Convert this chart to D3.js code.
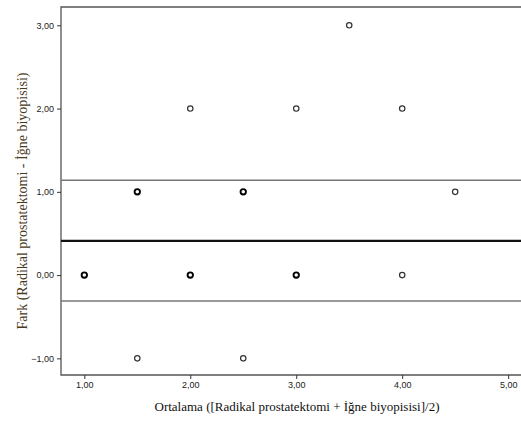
<!DOCTYPE html>
<html>
<head>
<meta charset="utf-8">
<script src="https://cdn.jsdelivr.net/npm/d3@7"></script>
<style>
  body { margin: 0; background: #fff; }
  svg { display: block; }
</style>
</head>
<body>
<div id="chart"></div>
<script>
// mean of the two measurements, difference, and how many cases sit on that spot
var ortalama = [1.0, 1.5, 1.5, 2.0, 2.0, 2.5, 2.5, 3.0, 3.0, 3.5, 4.0, 4.0, 4.5];
var fark     = [0,   1,  -1,   2,   0,   1,  -1,   2,   0,   3,   2,   0,   1];
var adet     = [3,   3,   1,   1,   3,   3,   1,   1,   3,   1,   1,   1,   1];

var ortFark = 0.41;      // mean difference
var ustSinir = 1.14;     // upper limit
var altSinir = -0.31;    // lower limit

var xTicks = [1, 2, 3, 4, 5];
var yTicks = [-1, 0, 1, 2, 3];

var width = 521, height = 423;
var margin = {top: 7, right: -2, bottom: 48, left: 61};

var svg = d3.select("#chart").append("svg")
    .attr("width", width)
    .attr("height", height);

var x = d3.scaleLinear()
    .domain([0.78, 5.14])
    .range([margin.left, width - margin.right]);

var y = d3.scaleLinear()
    .domain([-1.2, 3.22])
    .range([height - margin.bottom, margin.top]);

var fmt = function(d) { return d3.format(".2f")(d).replace(".", ","); };

// frame (top, left, bottom; right runs off the picture)
svg.append("path")
    .attr("d", "M" + (width + 2) + "," + y.range()[1] + "H" + margin.left +
               "V" + y.range()[0] + "H" + (width + 2))
    .style("fill", "none")
    .style("stroke", "#555")
    .style("stroke-width", "1.3px");

// axes
var xAxis = svg.append("g")
    .attr("transform", "translate(0," + y.range()[0] + ")")
    .call(d3.axisBottom(x).tickValues(xTicks).tickSize(4).tickPadding(3).tickFormat(fmt));

var yAxis = svg.append("g")
    .attr("transform", "translate(" + margin.left + ",0)")
    .call(d3.axisLeft(y).tickValues(yTicks).tickSize(4).tickPadding(3).tickFormat(fmt));

[xAxis, yAxis].forEach(function(a) {
    a.select(".domain").remove();
    a.selectAll("line").style("stroke", "#333");
    a.selectAll("text")
        .style("font-family", "'Liberation Sans', Arial, sans-serif")
        .style("font-size", "9px")
        .style("fill", "#222");
});

// reference lines
[[ustSinir, "#777", 1.5], [altSinir, "#777", 1.5], [ortFark, "#111", 2.2]].forEach(function(r) {
    svg.append("line")
        .attr("x1", margin.left).attr("x2", width)
        .attr("y1", y(r[0])).attr("y2", y(r[0]))
        .style("stroke", r[1])
        .style("stroke-width", r[2] + "px");
});

// points
svg.selectAll(".nokta")
    .data(d3.range(ortalama.length))
    .enter().append("circle")
    .attr("class", "nokta")
    .attr("cx", function(i) { return x(ortalama[i]); })
    .attr("cy", function(i) { return y(fark[i]); })
    .attr("r", 2.7)
    .style("fill", "none")
    .style("stroke", function(i) { return adet[i] > 1 ? "#000" : "#333"; })
    .style("stroke-width", function(i) { return adet[i] > 1 ? "1.9px" : "1.2px"; });

// titles
svg.append("text")
    .attr("x", 297)
    .attr("y", 411)
    .attr("text-anchor", "middle")
    .style("font-family", "'Liberation Serif', 'Times New Roman', serif")
    .style("font-size", "13px")
    .style("fill", "#111")
    .text("Ortalama ([Radikal prostatektomi + İğne biyopisisi]/2)");

svg.append("text")
    .attr("transform", "translate(27,201) rotate(-90)")
    .attr("text-anchor", "middle")
    .style("font-family", "'Liberation Serif', 'Times New Roman', serif")
    .style("font-size", "14px")
    .style("fill", "#4a3a1c")
    .text("Fark (Radikal prostatektomi - İğne biyopisisi)");
</script>
</body>
</html>
